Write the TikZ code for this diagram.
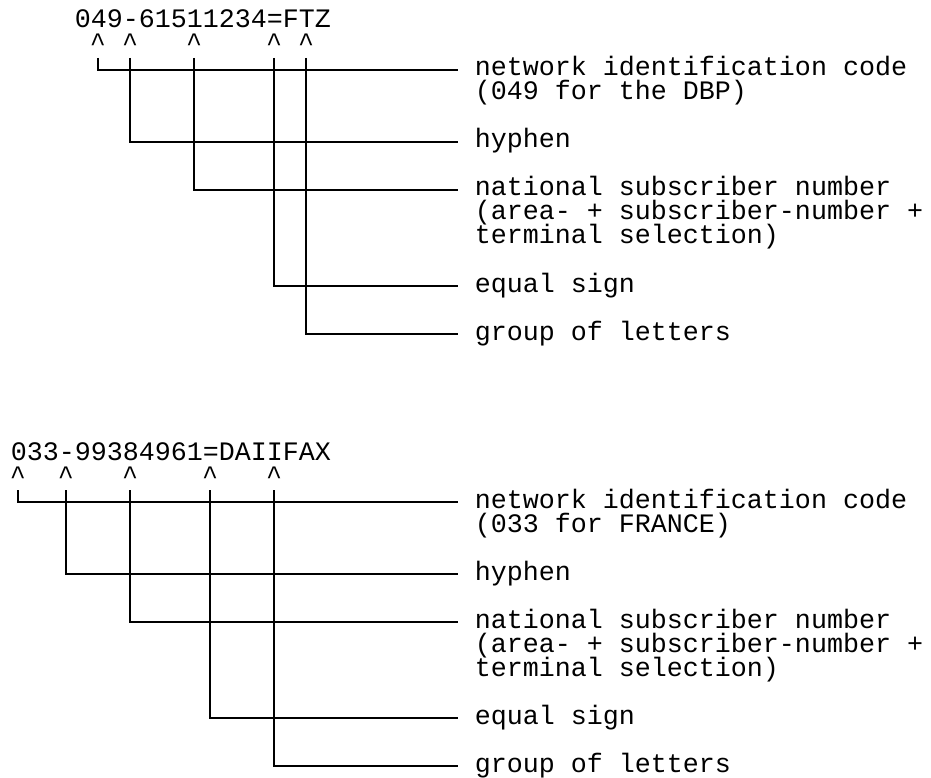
\documentclass[tikz,border=0pt]{standalone}
\usepackage{fontspec}
\setmonofont{Liberation Mono}
\usetikzlibrary{positioning}
% lines of a label, first line on the node's baseline, 24pt apart
\newcommand{\labtext}[1]{\vtop{\baselineskip=24pt\lineskiplimit=-\maxdimen
  \def\\{\egroup\hbox\bgroup}\hbox\bgroup#1\egroup}}

\begin{document}
\begin{tikzpicture}
	[x=16pt, y=-24pt, line width=1.9pt,
	 txt/.style = {inner sep=0, font=\ttfamily\fontsize{26.67}{24}\selectfont},
	 title/.style = {txt, anchor=base west},
	 caret/.style = {txt, anchor=base},
	 label/.style = {txt, anchor=base west}]
	\useasboundingbox (-0.625,-0.9167) rectangle (57.5625,31.5);
	% first number
	\node[title] (n1) at (4,0.25) {049-61511234=FTZ};
	\node[caret] (a1) at (5.5,1.25) {\textasciicircum};
	\node[caret] (a2) at (7.5,1.25) {\textasciicircum};
	\node[caret] (a3) at (11.5,1.25) {\textasciicircum};
	\node[caret] (a4) at (16.5,1.25) {\textasciicircum};
	\node[caret] (a5) at (18.5,1.25) {\textasciicircum};
	\node[label] (l1) at (29,2.25) {\labtext{network identification code\\(049 for the DBP)}};
	\node[label] (l2) at (29,5.25) {hyphen};
	\node[label] (l3) at (29,7.25) {\labtext{national subscriber number\\(area- + subscriber-number +\\terminal selection)}};
	\node[label] (l4) at (29,11.25) {equal sign};
	\node[label] (l5) at (29,13.25) {group of letters};
	\draw ([yshift=-6pt]a1.base) |- ([xshift=-16pt,yshift=6pt]l1.base west);
	\draw ([yshift=-6pt]a2.base) |- ([xshift=-16pt,yshift=6pt]l2.base west);
	\draw ([yshift=-6pt]a3.base) |- ([xshift=-16pt,yshift=6pt]l3.base west);
	\draw ([yshift=-6pt]a4.base) |- ([xshift=-16pt,yshift=6pt]l4.base west);
	\draw ([yshift=-6pt]a5.base) |- ([xshift=-16pt,yshift=6pt]l5.base west);
	% second number
	\node[title] (n2) at (0,18.25) {033-99384961=DAIIFAX};
	\node[caret] (b1) at (0.5,19.25) {\textasciicircum};
	\node[caret] (b2) at (3.5,19.25) {\textasciicircum};
	\node[caret] (b3) at (7.5,19.25) {\textasciicircum};
	\node[caret] (b4) at (12.5,19.25) {\textasciicircum};
	\node[caret] (b5) at (16.5,19.25) {\textasciicircum};
	\node[label] (m1) at (29,20.25) {\labtext{network identification code\\(033 for FRANCE)}};
	\node[label] (m2) at (29,23.25) {hyphen};
	\node[label] (m3) at (29,25.25) {\labtext{national subscriber number\\(area- + subscriber-number +\\terminal selection)}};
	\node[label] (m4) at (29,29.25) {equal sign};
	\node[label] (m5) at (29,31.25) {group of letters};
	\draw ([yshift=-6pt]b1.base) |- ([xshift=-16pt,yshift=6pt]m1.base west);
	\draw ([yshift=-6pt]b2.base) |- ([xshift=-16pt,yshift=6pt]m2.base west);
	\draw ([yshift=-6pt]b3.base) |- ([xshift=-16pt,yshift=6pt]m3.base west);
	\draw ([yshift=-6pt]b4.base) |- ([xshift=-16pt,yshift=6pt]m4.base west);
	\draw ([yshift=-6pt]b5.base) |- ([xshift=-16pt,yshift=6pt]m5.base west);
\end{tikzpicture}
\end{document}
